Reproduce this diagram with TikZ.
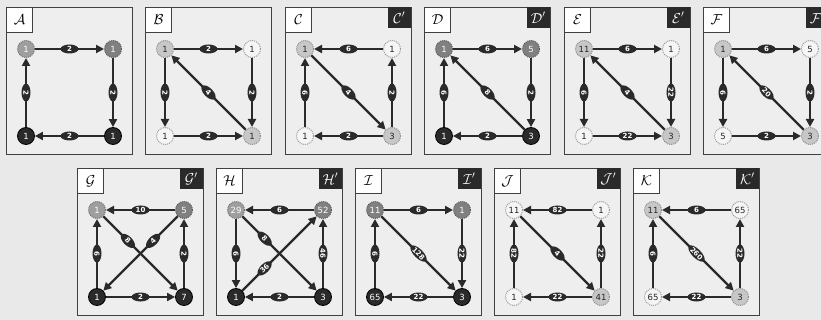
\documentclass[tikz,border=0pt]{standalone}
\usepackage{fontspec}
\setsansfont{DejaVu Sans}
\usetikzlibrary{arrows.meta,shapes.geometric}
\definecolor{ink}{HTML}{2A2A2A}
\definecolor{bg}{HTML}{E9E9E9}
\definecolor{panelbg}{HTML}{EEEEEE}
\tikzset{
 vn/.style={circle, minimum size=17pt, inner sep=0pt, font=\sffamily\fontsize{8.5}{9}\selectfont},
 vlight/.style={vn, fill=black!4, draw=black!40, densely dotted, line width=1pt, text=black!85},
 light/.style={vn, fill=black!22, draw=black!45, densely dotted, line width=1pt, text=black!85},
 lmed/.style={vn, fill=black!38, draw=black!55, densely dotted, line width=1pt, text=white},
 med/.style={vn, fill=black!50, draw=black!65, densely dotted, line width=1pt, text=white},
 dark/.style={vn, fill=ink, draw=black, line width=0.8pt, text=white},
 ed/.style={draw=ink, line width=2.3pt, -{Triangle[length=8pt,width=8pt]}},
 pill/.style={ellipse, fill=ink, text=white, inner sep=0.2pt, minimum width=18pt, minimum height=9pt, font=\sffamily\bfseries\fontsize{7}{7}\selectfont},
 panel/.style={draw=black!75, line width=1pt, fill=panelbg, minimum width=126pt, minimum height=147pt, anchor=north west, inner sep=0pt},
 tag/.style={draw=black!75, line width=1pt, fill=white, minimum width=26pt, minimum height=25pt, inner sep=0pt, anchor=north west, font=\fontsize{14}{14}\selectfont},
 btag/.style={fill=ink, text=white, minimum width=23pt, minimum height=21pt, inner sep=0pt, anchor=north east, font=\fontsize{14}{14}\selectfont},
}
\begin{document}
\begin{tikzpicture}[x=1pt, y=-1pt]
\clip (0,0) rectangle (821,320);
\fill[bg] (0,0) rectangle (821,320);
% A
\begin{scope}[shift={(6,7)}]
\node[panel] (Af) at (0,0) {};
\node[tag] (At) at (0,0) {$\mathcal{A}$};
\node[lmed] (A1) at (20,42) {1};
\node[med] (A2) at (107,42) {1};
\node[dark] (A3) at (20,129) {1};
\node[dark] (A4) at (107,129) {1};
\draw[ed] (A1) -- node[pill]{2} (A2);
\draw[ed] (A2) -- node[pill,rotate=-90]{2} (A4);
\draw[ed] (A4) -- node[pill]{2} (A3);
\draw[ed] (A3) -- node[pill,rotate=-90]{2} (A1);
\end{scope}
% B
\begin{scope}[shift={(145,7)}]
\node[panel] (Bf) at (0,0) {};
\node[tag] (Bt) at (0,0) {$\mathcal{B}$};
\node[light] (B1) at (20,42) {1};
\node[vlight] (B2) at (107,42) {1};
\node[vlight] (B3) at (20,129) {1};
\node[light] (B4) at (107,129) {1};
\draw[ed] (B1) -- node[pill]{2} (B2);
\draw[ed] (B2) -- node[pill,rotate=-90]{2} (B4);
\draw[ed] (B1) -- node[pill,rotate=-90]{2} (B3);
\draw[ed] (B3) -- node[pill]{2} (B4);
\draw[ed] (B4) -- node[pill,rotate=-45]{4} (B1);
\end{scope}
% C
\begin{scope}[shift={(285,7)}]
\node[panel] (Cf) at (0,0) {};
\node[tag] (Ct) at (0,0) {$\mathcal{C}$};
\node[btag] (Cp) at (126,0) {$\mathcal{C}'$};
\node[light] (C1) at (20,42) {1};
\node[vlight] (C2) at (107,42) {1};
\node[vlight] (C3) at (20,129) {1};
\node[light] (C4) at (107,129) {3};
\draw[ed] (C2) -- node[pill]{6} (C1);
\draw[ed] (C4) -- node[pill,rotate=-90]{2} (C2);
\draw[ed] (C4) -- node[pill]{2} (C3);
\draw[ed] (C3) -- node[pill,rotate=-90]{6} (C1);
\draw[ed] (C1) -- node[pill,rotate=-45]{4} (C4);
\end{scope}
% D
\begin{scope}[shift={(424,7)}]
\node[panel] (Df) at (0,0) {};
\node[tag] (Dt) at (0,0) {$\mathcal{D}$};
\node[btag] (Dp) at (126,0) {$\mathcal{D}'$};
\node[med] (D1) at (20,42) {1};
\node[med] (D2) at (107,42) {5};
\node[dark] (D3) at (20,129) {1};
\node[dark] (D4) at (107,129) {3};
\draw[ed] (D1) -- node[pill]{6} (D2);
\draw[ed] (D2) -- node[pill,rotate=-90]{2} (D4);
\draw[ed] (D4) -- node[pill]{2} (D3);
\draw[ed] (D3) -- node[pill,rotate=-90]{6} (D1);
\draw[ed] (D4) -- node[pill,rotate=-45]{8} (D1);
\end{scope}
% E
\begin{scope}[shift={(564,7)}]
\node[panel] (Ef) at (0,0) {};
\node[tag] (Et) at (0,0) {$\mathcal{E}$};
\node[btag] (Ep) at (126,0) {$\mathcal{E}'$};
\node[light] (E1) at (20,42) {11};
\node[vlight] (E2) at (107,42) {1};
\node[vlight] (E3) at (20,129) {1};
\node[light] (E4) at (107,129) {3};
\draw[ed] (E1) -- node[pill]{6} (E2);
\draw[ed] (E2) -- node[pill,rotate=-90]{22} (E4);
\draw[ed] (E1) -- node[pill,rotate=-90]{6} (E3);
\draw[ed] (E3) -- node[pill]{22} (E4);
\draw[ed] (E4) -- node[pill,rotate=-45]{4} (E1);
\end{scope}
% F
\begin{scope}[shift={(703,7)}]
\node[panel] (Ff) at (0,0) {};
\node[tag] (Ft) at (0,0) {$\mathcal{F}$};
\node[btag] (Fp) at (126,0) {$\mathcal{F}'$};
\node[light] (F1) at (20,42) {1};
\node[vlight] (F2) at (107,42) {5};
\node[vlight] (F3) at (20,129) {5};
\node[light] (F4) at (107,129) {3};
\draw[ed] (F1) -- node[pill]{6} (F2);
\draw[ed] (F2) -- node[pill,rotate=-90]{2} (F4);
\draw[ed] (F1) -- node[pill,rotate=-90]{6} (F3);
\draw[ed] (F3) -- node[pill]{2} (F4);
\draw[ed] (F4) -- node[pill,rotate=-45]{20} (F1);
\end{scope}
% G
\begin{scope}[shift={(77,168)}]
\node[panel] (Gf) at (0,0) {};
\node[tag] (Gt) at (0,0) {$\mathcal{G}$};
\node[btag] (Gp) at (126,0) {$\mathcal{G}'$};
\node[lmed] (G1) at (20,42) {1};
\node[med] (G2) at (107,42) {5};
\node[dark] (G3) at (20,129) {1};
\node[dark] (G4) at (107,129) {7};
\draw[ed] (G2) -- node[pill]{10} (G1);
\draw[ed] (G4) -- node[pill,rotate=-90]{2} (G2);
\draw[ed] (G3) -- node[pill]{2} (G4);
\draw[ed] (G3) -- node[pill,rotate=-90]{6} (G1);
\draw[ed] (G1) -- node[pill,rotate=-45,pos=0.33]{8} (G4);
\draw[ed] (G2) -- node[pill,rotate=45,pos=0.33]{4} (G3);
\end{scope}
% H
\begin{scope}[shift={(216,168)}]
\node[panel] (Hf) at (0,0) {};
\node[tag] (Ht) at (0,0) {$\mathcal{H}$};
\node[btag] (Hp) at (126,0) {$\mathcal{H}'$};
\node[lmed] (H1) at (20,42) {29};
\node[med] (H2) at (107,42) {52};
\node[dark] (H3) at (20,129) {1};
\node[dark] (H4) at (107,129) {3};
\draw[ed] (H2) -- node[pill]{6} (H1);
\draw[ed] (H4) -- node[pill,rotate=-90]{46} (H2);
\draw[ed] (H4) -- node[pill]{2} (H3);
\draw[ed] (H1) -- node[pill,rotate=-90]{6} (H3);
\draw[ed] (H1) -- node[pill,rotate=-45,pos=0.3]{8} (H4);
\draw[ed] (H3) -- node[pill,rotate=45,pos=0.3]{36} (H2);
\end{scope}
% I
\begin{scope}[shift={(355,168)}]
\node[panel] (If) at (0,0) {};
\node[tag] (It) at (0,0) {$\mathcal{I}$};
\node[btag] (Ip) at (126,0) {$\mathcal{I}'$};
\node[med] (I1) at (20,42) {11};
\node[med] (I2) at (107,42) {1};
\node[dark] (I3) at (20,129) {65};
\node[dark] (I4) at (107,129) {3};
\draw[ed] (I1) -- node[pill]{6} (I2);
\draw[ed] (I2) -- node[pill,rotate=-90]{22} (I4);
\draw[ed] (I4) -- node[pill]{22} (I3);
\draw[ed] (I3) -- node[pill,rotate=-90]{6} (I1);
\draw[ed] (I1) -- node[pill,rotate=-45]{128} (I4);
\end{scope}
% J
\begin{scope}[shift={(494,168)}]
\node[panel] (Jf) at (0,0) {};
\node[tag] (Jt) at (0,0) {$\mathcal{J}$};
\node[btag] (Jp) at (126,0) {$\mathcal{J}'$};
\node[vlight] (J1) at (20,42) {11};
\node[vlight] (J2) at (107,42) {1};
\node[vlight] (J3) at (20,129) {1};
\node[light] (J4) at (107,129) {41};
\draw[ed] (J2) -- node[pill]{82} (J1);
\draw[ed] (J4) -- node[pill,rotate=-90]{22} (J2);
\draw[ed] (J4) -- node[pill]{22} (J3);
\draw[ed] (J3) -- node[pill,rotate=-90]{82} (J1);
\draw[ed] (J1) -- node[pill,rotate=-45]{4} (J4);
\end{scope}
% K
\begin{scope}[shift={(633,168)}]
\node[panel] (Kf) at (0,0) {};
\node[tag] (Kt) at (0,0) {$\mathcal{K}$};
\node[btag] (Kp) at (126,0) {$\mathcal{K}'$};
\node[light] (K1) at (20,42) {11};
\node[vlight] (K2) at (107,42) {65};
\node[vlight] (K3) at (20,129) {65};
\node[light] (K4) at (107,129) {3};
\draw[ed] (K2) -- node[pill]{6} (K1);
\draw[ed] (K4) -- node[pill,rotate=-90]{22} (K2);
\draw[ed] (K4) -- node[pill]{22} (K3);
\draw[ed] (K3) -- node[pill,rotate=-90]{6} (K1);
\draw[ed] (K1) -- node[pill,rotate=-45]{260} (K4);
\end{scope}
\end{tikzpicture}
\end{document}
